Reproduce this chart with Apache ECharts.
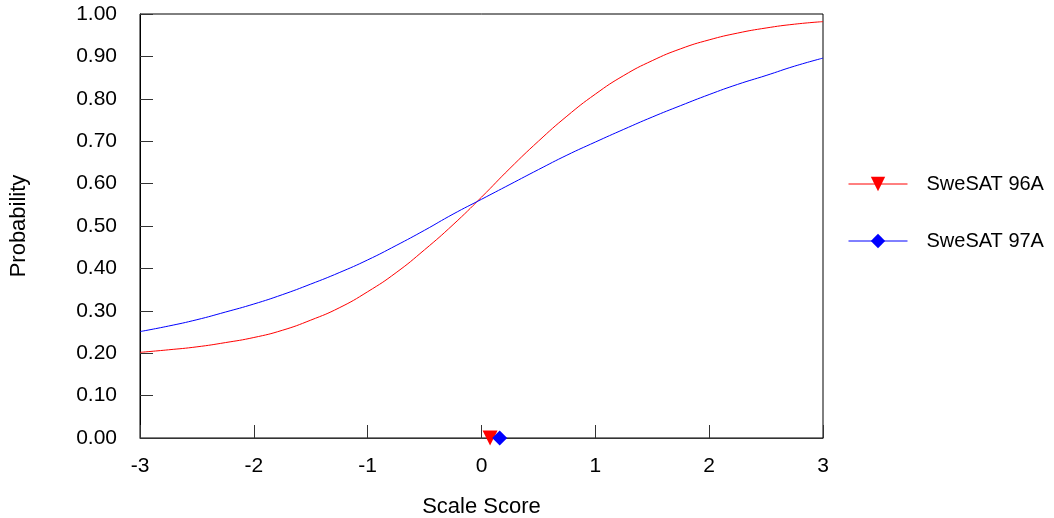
<!DOCTYPE html>
<html>
<head>
<meta charset="utf-8">
<script src="https://cdn.jsdelivr.net/npm/echarts@6/dist/echarts.min.js"></script>
<style>html,body{margin:0;padding:0;background:#fff;}#c{width:1054px;height:518px;}</style>
</head>
<body>
<div id="c"></div>
<script>
var scores = [-3,-2.75,-2.5,-2.25,-2,-1.75,-1.5,-1.25,-1,-0.75,-0.5,-0.25,0,0.25,0.5,0.75,1,1.25,1.5,1.75,2,2.25,2.5,2.75,3];
var prob96A = [0.202,0.208,0.215,0.225,0.237,0.254,0.278,0.307,0.345,0.390,0.444,0.503,0.568,0.636,0.700,0.759,0.811,0.855,0.890,0.918,0.939,0.955,0.967,0.976,0.982];
var prob97A = [0.251,0.264,0.279,0.297,0.316,0.338,0.363,0.390,0.420,0.454,0.490,0.528,0.563,0.598,0.633,0.667,0.698,0.728,0.757,0.784,0.810,0.834,0.855,0.877,0.896];
var seriesNames = ['SweSAT 96A','SweSAT 97A'];
var markerX = [0.075, 0.16];

function pairs(xs, ys){ return xs.map(function(x,i){ return [x, ys[i]]; }); }

var font = 'Liberation Sans, Arial, sans-serif';
var chart = echarts.init(document.getElementById('c'), null, {renderer:'canvas'});
chart.setOption({
  animation:false,
  backgroundColor:'#fff',
  grid:{left:140,right:231,top:14,bottom:80,show:true,borderColor:'#000',borderWidth:1,outerBoundsMode:'none',containLabel:false},
  legend:{
    orient:'vertical', left:848, top:174, padding:0, itemWidth:59, itemHeight:18, itemGap:37,
    textStyle:{fontFamily:font,fontSize:20,color:'#000',padding:[0,0,0,14]},
    lineStyle:{width:1},
    data:seriesNames
  },
  xAxis:{
    type:'value', min:-3, max:3, interval:1,
    name:'Scale Score', nameLocation:'middle', nameGap:58,
    nameTextStyle:{fontFamily:font,fontSize:22,color:'#000'},
    axisLine:{onZero:false,lineStyle:{color:'#333',width:1}},
    axisTick:{inside:true,length:13,lineStyle:{color:'#333'}},
    axisLabel:{fontFamily:font,fontSize:21,color:'#000',margin:18},
    splitLine:{show:false}
  },
  yAxis:{
    type:'value', min:0, max:1, interval:0.1,
    name:'Probability', nameLocation:'middle', nameGap:110, nameRotate:90,
    nameTextStyle:{fontFamily:font,fontSize:22,color:'#000'},
    axisLine:{show:true,onZero:false,lineStyle:{color:'#000',width:1}},
    axisTick:{show:true,inside:true,length:13,lineStyle:{color:'#333'}},
    axisLabel:{fontFamily:font,fontSize:21,color:'#000',margin:23,formatter:function(v){return v.toFixed(2);}},
    splitLine:{show:false}
  },
  series:[
    {
      name:seriesNames[0], type:'line', smooth:true, showSymbol:false,
      symbol:'triangle', symbolRotate:180, symbolSize:15,
      itemStyle:{color:'#ff0000'}, lineStyle:{color:'#ff0000',width:1},
      data:pairs(scores, prob96A),
      markPoint:{
        symbol:'triangle', symbolRotate:180, symbolSize:15,
        itemStyle:{color:'#ff0000'}, label:{show:false},
        data:[{coord:[markerX[0],0]}]
      },
      z:3
    },
    {
      name:seriesNames[1], type:'line', smooth:true, showSymbol:false,
      symbol:'diamond', symbolSize:15,
      itemStyle:{color:'#0000ff'}, lineStyle:{color:'#0000ff',width:1},
      data:pairs(scores, prob97A),
      markPoint:{
        symbol:'diamond', symbolSize:15,
        itemStyle:{color:'#0000ff'}, label:{show:false},
        data:[{coord:[markerX[1],0]}]
      },
      z:4
    }
  ]
});
</script>
</body>
</html>
